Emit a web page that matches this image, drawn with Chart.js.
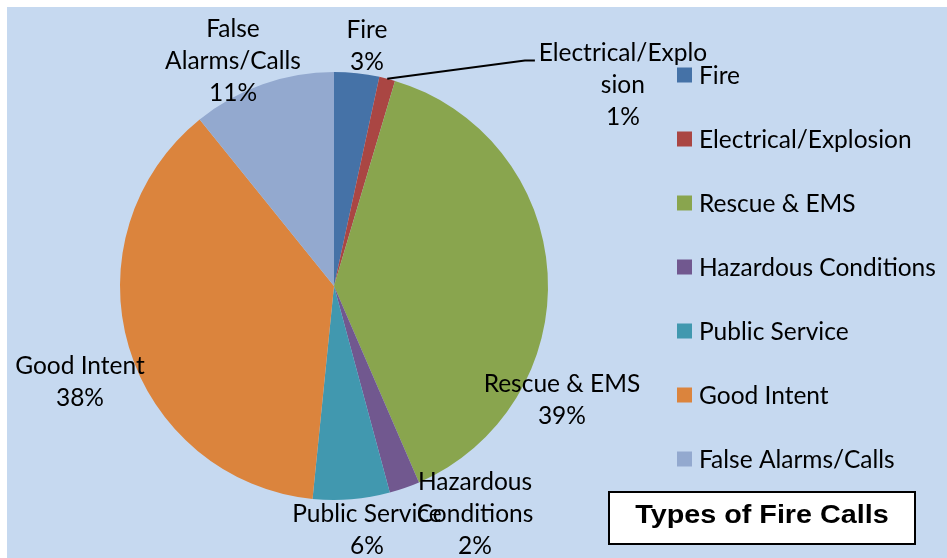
<!DOCTYPE html>
<html>
<head>
<meta charset="utf-8">
<script src="https://cdn.jsdelivr.net/npm/chart.js@4/dist/chart.umd.min.js"></script>
<style>
  html,body{margin:0;padding:0;background:#fff;}
  #wrap{position:absolute;left:7px;top:7px;width:940px;height:551px;background:#c6d9f0;}
  canvas{display:block;}
</style>
</head>
<body>
<div id="wrap"><canvas id="c" width="940" height="551"></canvas></div>
<script>
// ── データ ─────────────────────────────────
const cats=['Fire','Electrical/Explosion','Rescue & EMS','Hazardous Conditions','Public Service','Good Intent','False Alarms/Calls'];
const shares=[3.4,1.2,38.9,2.3,5.8,37.6,10.8];
const catLines=[['Fire'],['Electrical/Explo','sion'],['Rescue & EMS'],['Hazardous','Conditions'],['Public Service'],['Good Intent'],['False','Alarms/Calls']];
const colors=['#4572a7','#aa4643','#89a54e','#71588f','#4198af','#db843d','#93a9cf'];
const chartTitle='Types of Fire Calls';

const FONT='"Lato", "Open Sans", sans-serif';
const FS=24.5, LH=32;

// ラベル位置（半径単位、円の中心から）
const lblPos=[[0.154,-1.120],[1.350,-0.937],[1.065,0.535],[0.659,1.067],[0.154,1.142],[-1.187,0.451],[-0.472,-1.049]];

const pieLabels={
  id:'pieLabels',
  afterDatasetsDraw(chart){
    const ctx=chart.ctx, meta=chart.getDatasetMeta(0);
    const tot=shares.reduce((a,b)=>a+b,0);
    ctx.save();
    ctx.font=`${FS}px ${FONT}`;ctx.fillStyle='#000';ctx.textAlign='center';ctx.textBaseline='middle';
    meta.data.forEach((arc,i)=>{
      const {x,y,outerRadius:r}=arc.getProps(['x','y','outerRadius'],true);
      const lx=x+lblPos[i][0]*r, ly=y+lblPos[i][1]*r;
      const lines=catLines[i].concat([Math.round(shares[i]/tot*100)+'%']);
      const y0=ly-(lines.length-1)*LH/2;
      lines.forEach((t,k)=>ctx.fillText(t,lx,y0+k*LH));
      if(i===1){
        // 引き出し線
        const a=(arc.startAngle+arc.endAngle)/2;
        ctx.strokeStyle='#000';ctx.lineWidth=2;
        ctx.beginPath();
        ctx.moveTo(x+Math.cos(a)*r,y+Math.sin(a)*r);
        ctx.lineTo(lx-98,ly-25);ctx.lineTo(lx-88,ly-25);
        ctx.stroke();
      }
    });
    // 凡例
    ctx.textAlign='left';
    cats.forEach((c,i)=>{
      const cy=68+i*64;
      ctx.fillStyle=colors[i];ctx.fillRect(670,cy-7.5,15,15);
      ctx.fillStyle='#000';ctx.fillText(c,692,cy+1);
    });
    // タイトル枠
    ctx.fillStyle='#fff';ctx.fillRect(602,485,306,52);
    ctx.strokeStyle='#000';ctx.lineWidth=2;ctx.strokeRect(602,485,306,52);
    ctx.fillStyle='#000';ctx.font=`bold 25px "Liberation Sans", Arial, sans-serif`;ctx.textAlign='center';
    ctx.translate(755,509);ctx.scale(1.15,1);ctx.fillText(chartTitle,0,0);
    ctx.restore();
  }
};

new Chart(document.getElementById('c'),{
  type:'pie',
  data:{labels:cats,datasets:[{data:shares,backgroundColor:colors,borderWidth:0}]},
  options:{responsive:false,animation:false,
    layout:{padding:{left:113,top:65,right:399,bottom:58}},
    plugins:{legend:{display:false},tooltip:{enabled:false}}},
  plugins:[pieLabels]
});
</script>
</body>
</html>
